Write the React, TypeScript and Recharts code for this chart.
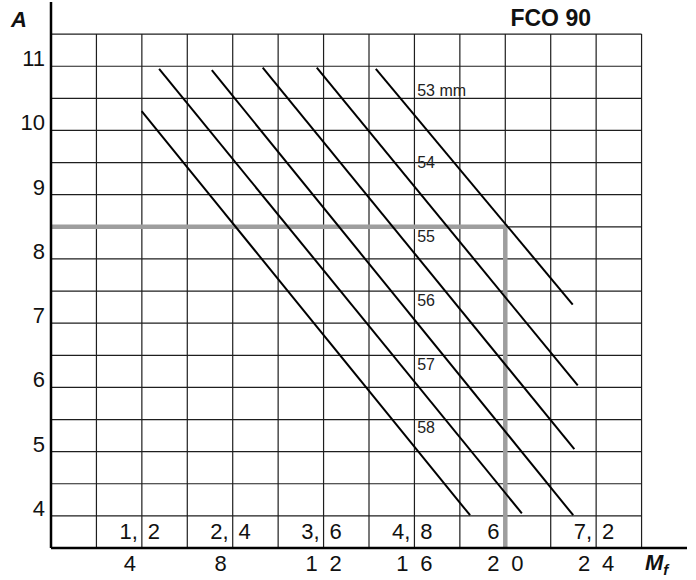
import React from 'react';
import { ComposedChart, Line, XAxis, YAxis, ReferenceLine, Scatter } from 'recharts';

// grid positions
const xGridValues = [2, 4, 6, 8, 10, 12, 14, 16, 18, 20, 22, 24, 26];
const yGridValues = [4, 4.5, 5, 5.5, 6, 6.5, 7, 7.5, 8, 8.5, 9, 9.5, 10, 10.5, 11, 11.5];

// tick labels
const xTickValues = [4, 8, 12, 16, 20, 24];
const xTickLabels = [['4', ''], ['8', ''], ['1', '2'], ['1', '6'], ['2', '0'], ['2', '4']];
const xAltLabels = [['1,', '2'], ['2,', '4'], ['3,', '6'], ['4,', '8'], ['6', ''], ['7,', '2']];
const yTickValues = [4, 5, 6, 7, 8, 9, 10, 11];

// diagonal series
const line53 = [{ x: 14.3, y: 10.96 }, { x: 22.97, y: 7.29 }];
const line54 = [{ x: 11.7, y: 10.98 }, { x: 23.19, y: 6.03 }];
const line55 = [{ x: 9.32, y: 10.98 }, { x: 23.04, y: 5.04 }];
const line56 = [{ x: 7.08, y: 10.94 }, { x: 22.99, y: 4.01 }];
const line57 = [{ x: 4.76, y: 10.96 }, { x: 20.73, y: 4.04 }];
const line58 = [{ x: 3.99, y: 10.3 }, { x: 18.45, y: 4.01 }];

// gray reading guide
const guideLine = [{ x: 0, y: 8.5 }, { x: 20, y: 8.5 }, { x: 20, y: 3.5 }];

// series labels
const seriesLabels = [
  { x: 16.12, y: 10.53, label: '53 mm' },
  { x: 16.12, y: 9.42, label: '54' },
  { x: 16.12, y: 8.27, label: '55' },
  { x: 16.12, y: 7.27, label: '56' },
  { x: 16.12, y: 6.27, label: '57' },
  { x: 16.12, y: 5.29, label: '58' },
];
const titleData = [{ x: 22.0, y: 11.62, label: 'FCO 90' }];

const FONT = "'Liberation Sans', Arial, Helvetica, sans-serif";
const GRID = '#1e1e1e';
const FS = 22;

const XTick = (props: any) => {
  const { x, y, payload } = props;
  const i = xTickValues.indexOf(payload.value);
  if (i < 0) return null;
  const [a, b] = xTickLabels[i];
  const [c, d] = xAltLabels[i];
  return (
    <g fontFamily={FONT} fontSize={FS} fill="#111">
      <text x={x - 12} y={y + 23} textAnchor="middle">{a}</text>
      {b && <text x={x + 12} y={y + 23} textAnchor="middle">{b}</text>}
      {d ? (
        <text x={x - 4} y={y - 9} textAnchor="end">{c}</text>
      ) : (
        <text x={x - 12} y={y - 9} textAnchor="middle">{c}</text>
      )}
      {d && <text x={x + 12} y={y - 9} textAnchor="middle">{d}</text>}
    </g>
  );
};

const YTick = (props: any) => {
  const { x, y, payload } = props;
  return (
    <text x={x - 6} y={y} textAnchor="end" fontFamily={FONT} fontSize={FS} fill="#111">
      {payload.value}
    </text>
  );
};

const YTitle = (props: any) => {
  const vb = props.viewBox || {};
  return (
    <text x={(vb.x || 0) + 11} y={27} fontFamily={FONT} fontSize={FS} fontWeight="bold" fontStyle="italic" fill="#111">
      A
    </text>
  );
};

const XTitle = (props: any) => {
  const vb = props.viewBox || {};
  const right = (vb.x || 0) + (vb.width || 0);
  const top = vb.y || 0;
  return (
    <text x={right - 42} y={top + 22} fontFamily={FONT} fontSize={FS} fontWeight="bold" fontStyle="italic" fill="#111">
      M<tspan fontSize={15} dy={5}>f</tspan>
    </text>
  );
};

const SeriesLabel = (props: any) => {
  const { cx, cy, payload } = props;
  return (
    <text x={cx} y={cy} fontFamily={FONT} fontSize={16} fill="#222">
      {payload.label}
    </text>
  );
};

const TitleLabel = (props: any) => {
  const { cx, cy, payload } = props;
  return (
    <text x={cx} y={cy} textAnchor="middle" fontFamily={FONT} fontSize={23} fontWeight="bold" fill="#111">
      {payload.label}
    </text>
  );
};

const diagonals = [line53, line54, line55, line56, line57, line58];

export default function App() {
  return (
    <div style={{ position: 'absolute', left: 0, top: 0, width: 696, height: 580, background: '#fff' }}>
      <ComposedChart width={696} height={580} margin={{ top: 2, right: 9, bottom: 0, left: 0 }}>
        <XAxis
          dataKey="x"
          type="number"
          domain={[0, 28]}
          ticks={xTickValues}
          tick={<XTick />}
          tickLine={false}
          tickSize={0}
          tickMargin={0}
          height={32}
          axisLine={{ stroke: '#000', strokeWidth: 2.5 }}
          interval={0}
          allowDataOverflow
          label={<XTitle />}
        />
        <YAxis
          dataKey="y"
          type="number"
          domain={[3.5, 12]}
          ticks={yTickValues}
          tick={<YTick />}
          tickLine={false}
          tickSize={0}
          tickMargin={0}
          width={51}
          axisLine={{ stroke: '#000', strokeWidth: 2.5 }}
          interval={0}
          allowDataOverflow
          label={<YTitle />}
        />
        {xGridValues.map((v) => (
          <ReferenceLine
            key={'vx' + v}
            segment={[{ x: v, y: 3.5 }, { x: v, y: 11.5 }]}
            stroke={GRID}
            strokeWidth={1.2}
          />
        ))}
        {yGridValues.map((v) => (
          <ReferenceLine
            key={'hy' + v}
            segment={[{ x: 0, y: v }, { x: 26, y: v }]}
            stroke={GRID}
            strokeWidth={1.2}
          />
        ))}
        <Line
          data={guideLine}
          dataKey="y"
          type="linear"
          stroke="#9e9e9e"
          strokeWidth={4.5}
          strokeLinejoin="miter"
          dot={false}
          activeDot={false}
          isAnimationActive={false}
        />
        {diagonals.map((d, i) => (
          <Line
            key={'d' + i}
            data={d}
            dataKey="y"
            type="linear"
            stroke="#000"
            strokeWidth={2}
            dot={false}
            activeDot={false}
            isAnimationActive={false}
          />
        ))}
        <Scatter data={seriesLabels} dataKey="y" shape={<SeriesLabel />} isAnimationActive={false} />
        <Scatter data={titleData} dataKey="y" shape={<TitleLabel />} isAnimationActive={false} />
      </ComposedChart>
    </div>
  );
}
